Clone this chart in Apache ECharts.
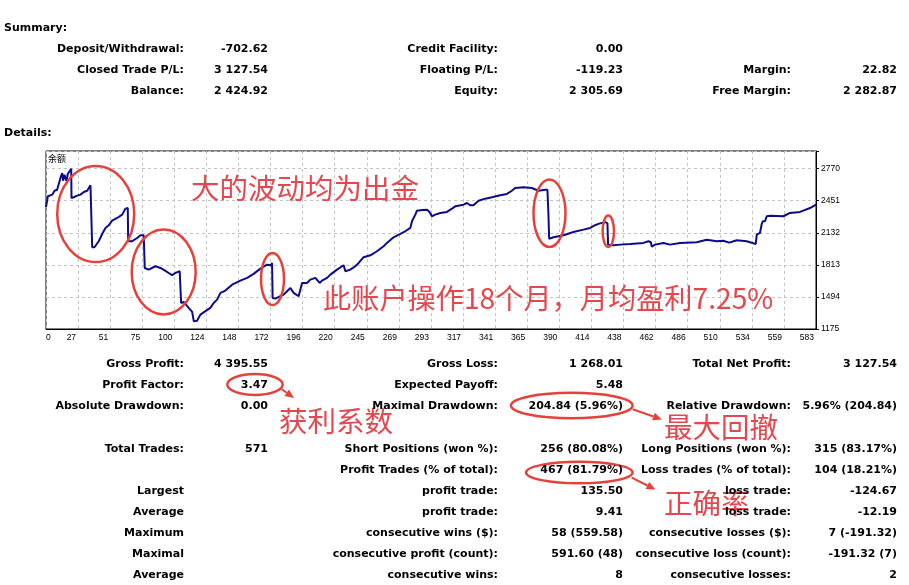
<!DOCTYPE html>
<html><head><meta charset="utf-8">
<script src="https://cdn.jsdelivr.net/npm/echarts@6/dist/echarts.min.js"></script>
<style>html,body{margin:0;padding:0;background:#fff}#c{width:909px;height:585px}</style>
</head><body><div id="c"></div>
<script>
// ---------- data ----------
const SERIES_NAME = '余额';
const TRADE_INDEX = [3,4.4,7.7,9.4,11.4,12.6,13.9,15.2,15.9,16.9,18.4,19.4,20.9,22.0,22.2,23.9,26.5,29.0,31.5,34.0,36.5,37.3,37.8,39.5,42.7,45.3,47.8,50.3,52.8,56.6,60.4,62.8,64.6,64.9,67.9,71.7,74.1,76.6,77.4,80.4,85.4,89.2,94.2,98.0,100.5,101.8,103.7,104.8,106.7,110.5,113.1,114.3,116.8,119.3,123.1,126.8,129.3,131.9,134.4,138.1,143.2,149.4,154.5,159.4,164.5,169.5,172.5,173.3,173.7,175.8,179.5,182.0,184.6,187.1,189.5,193.3,195.9,199.6,202.1,205.9,209.1,210.9,214.7,217.2,222.2,227.2,228.5,232.2,236.0,238.5,242.2,247.3,252.3,257.3,259.8,264.8,269.9,273.6,277.4,278.7,281.2,282.4,286.2,290.0,291.9,293.7,296.2,300.0,305.0,308.8,311.3,317.5,320.1,321.3,322.5,325.0,328.8,333.8,338.9,345.1,350.2,353.9,356.4,362.7,369.0,374.0,379.0,380.7,381.5,382.0,385.3,392.8,400.3,407.8,412.9,416.6,419.1,424.2,425.9,426.4,430.4,435.5,443.0,453.0,456.8,458.6,459.3,461.8,468.1,473.1,480.6,493.2,500.7,508.2,513.2,517.7,523.3,530.8,535.8,537.6,538.4,540.8,542.1,542.9,544.6,545.9,548.4,558.4,563.4,571.0,578.5,583.0];
const BALANCE = [2388,2495,2511,2550,2560,2617,2677,2726,2650,2709,2647,2716,2697,2769,2478,2485,2501,2511,2537,2550,2604,2610,1988,1988,2048,2120,2180,2207,2252,2279,2312,2372,2378,2048,2048,2080,2107,2107,1782,1765,1799,1782,1742,1710,1733,1716,1749,1434,1444,1385,1345,1253,1258,1318,1352,1385,1434,1467,1534,1557,1616,1656,1683,1723,1775,1815,1809,1832,1484,1477,1501,1517,1551,1583,1534,1501,1633,1633,1666,1683,1633,1656,1683,1716,1765,1809,1749,1765,1799,1832,1889,1908,1948,1998,2031,2087,2120,2147,2180,2246,2312,2352,2359,2362,2339,2296,2312,2329,2339,2372,2395,2411,2428,2445,2405,2405,2451,2471,2485,2505,2518,2550,2577,2584,2577,2550,2560,2560,2296,2073,2087,2107,2140,2163,2180,2207,2220,2239,2226,2014,2008,2014,2021,2031,2048,2038,1994,2014,2031,2014,2031,2038,2063,2048,2053,2034,2058,2048,2028,2021,2113,2130,2219,2246,2246,2296,2302,2296,2329,2339,2378,2411];
const X_TICK_LABELS = ['0','27','51','75','100','124','148','172','196','220','245','269','293','317','341','365','390','414','438','462','486','510','534','559','583'];
const Y_TICK_LABELS = [1175,1494,1813,2132,2451,2770];

const SUMMARY_COL1 = [['Deposit/Withdrawal:','-702.62'],['Closed Trade P/L:','3 127.54'],['Balance:','2 424.92']];
const SUMMARY_COL2 = [['Credit Facility:','0.00'],['Floating P/L:','-119.23'],['Equity:','2 305.69']];
const SUMMARY_COL3 = [['',''],['Margin:','22.82'],['Free Margin:','2 282.87']];

const STATS_COL1 = [['Gross Profit:','4 395.55'],['Profit Factor:','3.47'],['Absolute Drawdown:','0.00'],['Total Trades:','571'],['',''],['Largest',''],['Average',''],['Maximum',''],['Maximal',''],['Average','']];
const STATS_COL2 = [['Gross Loss:','1 268.01'],['Expected Payoff:','5.48'],['Maximal Drawdown:','204.84 (5.96%)'],['Short Positions (won %):','256 (80.08%)'],['Profit Trades (% of total):','467 (81.79%)'],['profit trade:','135.50'],['profit trade:','9.41'],['consecutive wins ($):','58 (559.58)'],['consecutive profit (count):','591.60 (48)'],['consecutive wins:','8']];
const STATS_COL3 = [['Total Net Profit:','3 127.54'],['',''],['Relative Drawdown:','5.96% (204.84)'],['Long Positions (won %):','315 (83.17%)'],['Loss trades (% of total):','104 (18.21%)'],['loss trade:','-124.67'],['loss trade:','-12.19'],['consecutive losses ($):','7 (-191.32)'],['consecutive loss (count):','-191.32 (7)'],['consecutive losses:','2']];

const NOTE_TEXTS = ['大的波动均为出金','此账户操作18个月，月均盈利7.25%','获利系数','最大回撤','正确率'];

// ---------- layout ----------
const X_MIN = 3, X_MAX = 583, X_STEP = 580 / 24;
const Y_MIN = 1175, Y_MAX = 2945, Y_STEP = 319;
const FONT = 'DejaVu Sans';
const RED_T = '#e4474d', RED_L = '#e5413a';

const chart = echarts.init(document.getElementById('c'), null, {renderer: 'canvas'});
const graphics = [];
function txt(x, y, s, align, z) {
  if (!s) return;
  graphics.push({type: 'text', x: x, y: y, z: z || 20, silent: true,
    style: {text: s, x: 0, y: 0, align: align, verticalAlign: 'middle', fill: '#000',
      font: 'bold 11px "' + FONT + '"'}});
}
txt(4, 28.5, 'Summary:', 'left');
txt(4, 133.5, 'Details:', 'left');
const sumY = [48.8, 69.8, 90.8];
[[SUMMARY_COL1, 184, 268], [SUMMARY_COL2, 498, 623], [SUMMARY_COL3, 791, 897]].forEach(function (c) {
  c[0].forEach(function (r, i) { txt(c[1], sumY[i], r[0], 'right'); txt(c[2], sumY[i], r[1], 'right'); });
});
const statY = [364, 385, 406, 449, 470, 491, 512, 533, 554, 575];
[[STATS_COL1, 184, 268], [STATS_COL2, 498, 623], [STATS_COL3, 791, 897]].forEach(function (c) {
  c[0].forEach(function (r, i) { txt(c[1], statY[i], r[0], 'right'); txt(c[2], statY[i], r[1], 'right'); });
});

// red annotation texts
const notePos = [[191, 188, 28.5], [323, 298, 28.2], [279, 421.5, 28.5], [664, 427, 28.5], [664, 503, 28.5]];
NOTE_TEXTS.forEach(function (s, i) {
  const p = notePos[i];
  graphics.push({type: 'text', x: p[0], y: p[1], z: 8, silent: true,
    style: {text: s, x: 0, y: 0, align: 'left', verticalAlign: 'middle', fill: RED_T,
      font: p[2] + 'px "Noto Sans CJK SC"'}});
});
// red ellipses
[[95.7, 214, 38.5, 48], [163.7, 272, 32, 42.5], [272.5, 279, 11.5, 26], [549.5, 213.3, 16, 33.7], [608.3, 231.3, 5.7, 15.7],
 [255, 384.5, 27.7, 10.5], [571.8, 405.5, 60.8, 12.8], [579.3, 472.5, 53.3, 10.8]].forEach(function (e) {
  graphics.push({type: 'ellipse', z: 9, silent: true, shape: {cx: e[0], cy: e[1], rx: e[2], ry: e[3]},
    style: {fill: 'none', stroke: RED_L, lineWidth: 2.5}});
});
// arrows
function arrow(x1, y1, x2, y2) {
  const dx = x2 - x1, dy = y2 - y1, L = Math.sqrt(dx * dx + dy * dy), ux = dx / L, uy = dy / L;
  const hl = 9, hw = 4;
  const bx = x2 - ux * hl, by = y2 - uy * hl;
  graphics.push({type: 'polyline', z: 9, silent: true, shape: {points: [[x1, y1], [bx, by]]},
    style: {stroke: RED_L, lineWidth: 2, fill: 'none'}});
  graphics.push({type: 'polygon', z: 9, silent: true,
    shape: {points: [[x2, y2], [bx - uy * hw, by + ux * hw], [bx + uy * hw, by - ux * hw]]},
    style: {fill: RED_L}});
}
arrow(281.5, 389, 294, 398);
arrow(632.7, 409.3, 662, 419.5);
arrow(631.7, 477.7, 655.5, 489.5);

const data = TRADE_INDEX.map(function (x, i) { return [x, BALANCE[i]]; });

chart.setOption({
  animation: false,
  backgroundColor: '#fff',
  grid: {left: 46, top: 151, width: 770, height: 178, show: true, borderColor: '#000', borderWidth: 1, backgroundColor: '#fff'},
  legend: {data: [SERIES_NAME], left: 43, top: 154, padding: 0, icon: 'none', itemWidth: 0, itemHeight: 0,
    textStyle: {fontSize: 9, color: '#000', fontFamily: 'Noto Sans CJK SC'}, selectedMode: false},
  xAxis: {type: 'value', min: X_MIN, max: X_MAX, interval: X_STEP,
    axisLine: {show: true, lineStyle: {color: '#000', width: 1}},
    axisTick: {show: false},
    axisLabel: {fontSize: 8.5, fontFamily: 'Liberation Sans', color: '#000', margin: 4, align: 'right', padding: [0, 2, 0, 0],
      alignMinLabel: 'left', showMaxLabel: true, showMinLabel: true, hideOverlap: false,
      formatter: function (v) { const k = Math.round((v - X_MIN) / X_STEP); return X_TICK_LABELS[k] || ''; }},
    splitLine: {show: true, lineStyle: {color: '#c4c4c4', type: [3, 3], width: 1}}},
  yAxis: {type: 'value', position: 'right', min: Y_MIN, max: Y_MAX, interval: Y_STEP,
    axisLine: {show: true, lineStyle: {color: '#000', width: 1}},
    axisTick: {show: true, inside: false, length: 3, lineStyle: {color: '#000'}},
    axisLabel: {fontSize: 8.5, fontFamily: 'Liberation Sans', color: '#000', margin: 5,
      formatter: function (v) { const r = Math.round(v); return Y_TICK_LABELS.indexOf(r) >= 0 ? String(r) : ''; }},
    splitLine: {show: true, lineStyle: {color: '#c4c4c4', type: [3, 3], width: 1}}},
  series: [{name: SERIES_NAME, type: 'line', data: data, showSymbol: false, symbol: 'none',
    lineStyle: {color: '#0b0b8e', width: 2}, itemStyle: {color: '#0b0b8e'}, z: 3}],
  graphic: graphics
});
</script></body></html>
